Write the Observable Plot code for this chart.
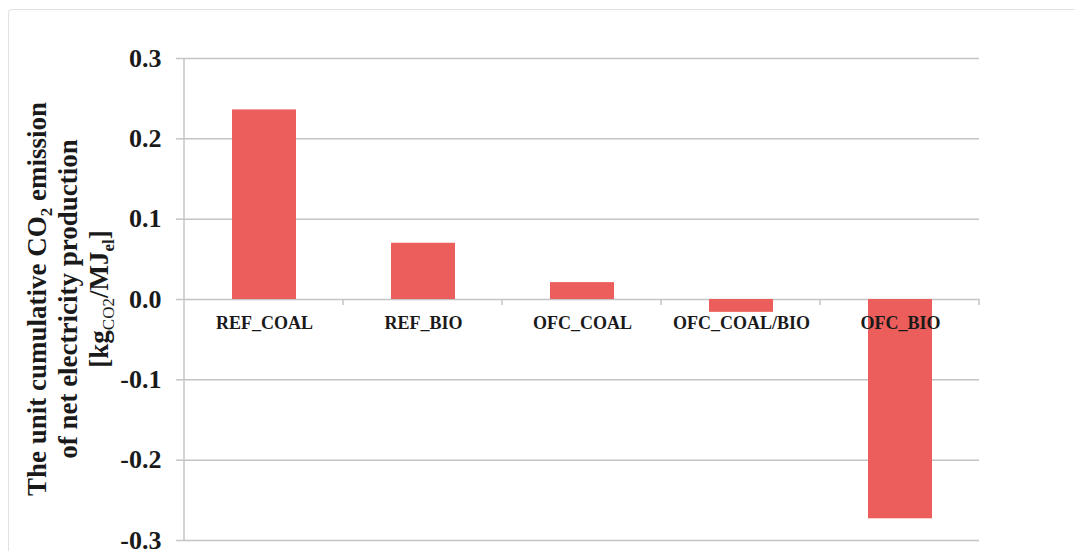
<!DOCTYPE html>
<html>
<head>
<meta charset="utf-8">
<script src="https://cdn.jsdelivr.net/npm/d3@7"></script>
<script src="https://cdn.jsdelivr.net/npm/@observablehq/plot@0.6"></script>
<style>
  html, body { margin: 0; padding: 0; background: #fff; }
  #wrap { position: relative; width: 1075px; height: 551px; overflow: hidden; }
  #frame { position: absolute; left: 8px; top: 9px; width: 1100px; height: 600px;
           border-left: 1.5px solid #e2e2e2; border-top: 1.5px solid #e2e2e2; border-top-left-radius: 4px; }
  #chart { position: absolute; left: 0; top: 0; }
</style>
</head>
<body>
<div id="wrap"><div id="frame"></div><div id="chart"></div></div>
<script>
const categories = ["REF_COAL", "REF_BIO", "OFC_COAL", "OFC_COAL/BIO", "OFC_BIO"];
const values = [0.236, 0.070, 0.021, -0.016, -0.273];
const yTicks = [0.3, 0.2, 0.1, 0.0, -0.1, -0.2, -0.3];

const data = categories.map((c, i) => ({category: c, value: values[i]}));
const font = "'Liberation Serif', 'Times New Roman', serif";
const ink = "#1a1a1a";
const barColor = "#EB5E5B";
const gridColor = "#c4c4c4";

const plot = Plot.plot({
  width: 1075,
  height: 551,
  marginLeft: 184,
  marginRight: 96,
  marginTop: 58,
  marginBottom: 11,
  style: {fontFamily: font, background: "transparent"},
  x: {domain: categories, paddingInner: 0.6, paddingOuter: 0.3, axis: null},
  y: {domain: [-0.3, 0.3], axis: null},
  marks: [
    Plot.ruleY(yTicks, {stroke: gridColor, strokeWidth: 1.5}),
    Plot.barY(data, {x: "category", y: "value", fill: barColor}),
    Plot.axisY({
      ticks: yTicks,
      tickFormat: d => d3.format(".1f")(d).replace("−", "-"),
      tickSize: 8,
      tickPadding: 15,
      stroke: gridColor,
      strokeWidth: 1.5,
      fontSize: 26,
      fontWeight: "bold",
      fill: ink,
      label: null
    }),
    Plot.text(categories, {
      x: d => d, y: () => 0, dy: 24,
      text: d => d,
      fontSize: 18, fontWeight: "bold", fill: ink, fontFamily: font
    })
  ]
});

document.getElementById("chart").appendChild(plot);

// axis line, category boundary ticks on the zero line, and the y-axis title
const svg = d3.select(plot);
const ys = plot.scale("y");
const left = 184, right = 1075 - 96;
const y0 = ys.apply(0);

svg.append("line")
  .attr("x1", left).attr("x2", left)
  .attr("y1", ys.apply(0.3)).attr("y2", ys.apply(-0.3))
  .attr("stroke", gridColor).attr("stroke-width", 1.5);

const step = (right - left) / categories.length;
for (let i = 1; i <= categories.length; i++) {
  const x = left + i * step;
  svg.append("line")
    .attr("x1", x).attr("x2", x).attr("y1", y0).attr("y2", y0 + 6)
    .attr("stroke", gridColor).attr("stroke-width", 1.5);
}

const title = svg.append("text")
  .attr("transform", `translate(0, ${y0}) rotate(-90)`)
  .attr("text-anchor", "middle")
  .attr("font-family", font)
  .attr("font-weight", "bold")
  .attr("font-size", 27)
  .attr("fill", ink);

const l1 = title.append("tspan").attr("x", 0).attr("y", 46);
l1.append("tspan").text("The unit cumulative CO");
l1.append("tspan").attr("font-size", 17).attr("dy", 6).text("2");
l1.append("tspan").attr("dy", -6).text(" emission");

title.append("tspan").attr("x", 0).attr("y", 77).text("of net electricity production");

const l3 = title.append("tspan").attr("x", 0).attr("y", 108);
l3.append("tspan").text("[kg");
l3.append("tspan").attr("font-size", 17).attr("font-weight", "normal").attr("dy", 6).text("CO2");
l3.append("tspan").attr("dy", -6).text("/MJ");
l3.append("tspan").attr("font-size", 17).attr("dy", 6).text("el");
l3.append("tspan").attr("dy", -6).text("]");
</script>
</body>
</html>
